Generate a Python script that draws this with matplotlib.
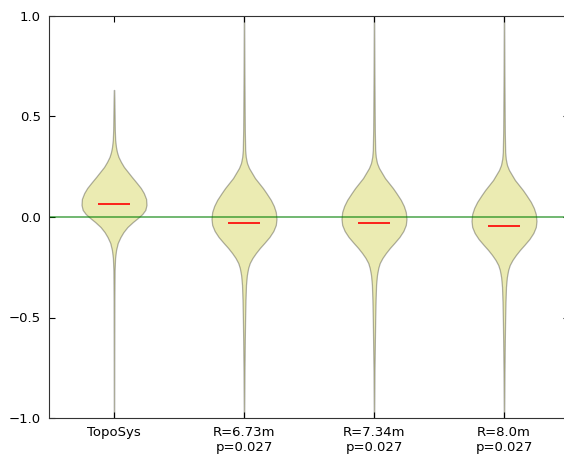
import numpy as np
import matplotlib.pyplot as plt

labels = ['TopoSys', 'R=6.73m\np=0.027', 'R=7.34m\np=0.027', 'R=8.0m\np=0.027']
means = [0.065, -0.03, -0.03, -0.045]

# density profiles (y value, relative half width)
y_topo = [-1.0, -0.662, -0.413, -0.264, -0.204, -0.164, -0.129, -0.100, -0.075,
          -0.050, -0.025, -0.005, 0.015, 0.035, 0.060, 0.090, 0.119, 0.144,
          0.169, 0.199, 0.224, 0.249, 0.274, 0.299, 0.323, 0.348, 0.383, 0.433,
          0.507, 0.582, 0.632]
w_topo = [0.2, 0.3, 0.4, 0.6, 1.1, 2.1, 3.8, 6.5, 9.5, 13.5, 19.0, 24.0, 28.5,
          31.5, 32.7, 32.3, 30.0, 27.0, 23.0, 18.0, 14.0, 10.0, 7.0, 4.5, 3.0,
          2.0, 1.2, 0.8, 0.6, 0.4, 0.2]

y_r673 = [-1.0, -0.763, -0.612, -0.512, -0.413, -0.338, -0.289, -0.254, -0.229,
          -0.204, -0.179, -0.154, -0.129, -0.100, -0.070, -0.040, -0.010, 0.025,
          0.055, 0.085, 0.119, 0.144, 0.169, 0.194, 0.219, 0.244, 0.269, 0.299,
          0.333, 0.433, 0.582, 0.746, 1.0]
w_r673 = [0.2, 0.5, 0.8, 1.1, 1.5, 2.0, 2.9, 4.2, 5.8, 8.5, 12.0, 16.0, 20.5,
          25.5, 29.5, 32.0, 32.7, 32.0, 30.0, 27.0, 22.5, 19.0, 15.0, 11.0, 8.0,
          5.0, 3.0, 1.8, 1.2, 0.8, 0.6, 0.4, 0.2]

y_r734 = [-1.0, -0.763, -0.612, -0.512, -0.413, -0.338, -0.289, -0.254, -0.229,
          -0.204, -0.179, -0.154, -0.129, -0.100, -0.070, -0.040, -0.010, 0.025,
          0.055, 0.085, 0.119, 0.144, 0.169, 0.194, 0.219, 0.244, 0.269, 0.299,
          0.333, 0.433, 0.582, 0.746, 1.0]
w_r734 = [0.2, 0.5, 0.9, 1.2, 1.6, 2.1, 3.0, 4.3, 5.8, 8.5, 12.0, 16.0, 20.5,
          25.5, 29.5, 32.0, 32.7, 32.0, 30.0, 27.0, 22.5, 19.0, 15.0, 11.0, 8.0,
          5.0, 3.0, 1.8, 1.2, 0.8, 0.6, 0.4, 0.2]

y_r80 = [-1.0, -0.773, -0.622, -0.522, -0.423, -0.348, -0.299, -0.264, -0.239,
         -0.214, -0.189, -0.164, -0.139, -0.110, -0.080, -0.050, -0.020, 0.015,
         0.045, 0.075, 0.109, 0.134, 0.159, 0.184, 0.209, 0.234, 0.259, 0.289,
         0.323, 0.423, 0.572, 0.736, 1.0]
w_r80 = [0.2, 0.5, 0.8, 1.1, 1.5, 2.0, 2.9, 4.2, 5.8, 8.5, 12.0, 16.0, 20.5,
         25.5, 29.5, 32.0, 32.7, 32.0, 30.0, 27.0, 22.5, 19.0, 15.0, 11.0, 8.0,
         5.0, 3.0, 1.8, 1.2, 0.8, 0.6, 0.4, 0.2]

profiles = [(y_topo, w_topo), (y_r673, w_r673), (y_r734, w_r734), (y_r80, w_r80)]

stats = []
for (ys, ws), m in zip(profiles, means):
    stats.append({'coords': np.array(ys), 'vals': np.array(ws), 'mean': m,
                  'median': m, 'min': ys[0], 'max': ys[-1]})

plt.rcParams['font.size'] = 9.5
fig = plt.figure(figsize=(5.64, 4.57), dpi=100)
ax = fig.add_axes([49 / 564, 39 / 457, 520 / 564, 402 / 457])

pos = [1, 2, 3, 4]
parts = ax.violin(stats, positions=pos, widths=0.5, showmeans=True,
                  showextrema=False, showmedians=False)
for b in parts['bodies']:
    b.set_facecolor('y')
    b.set_edgecolor('k')
    b.set_linewidth(0.9)
    b.set_alpha(0.3)
parts['cmeans'].set_color('r')
parts['cmeans'].set_linewidth(1.2)

ax.axhline(0, color='g', alpha=0.65, linewidth=1.2)

ax.set_xlim(0.5, 4.5)
ax.set_ylim(-1, 1)
ax.set_yticks([-1.0, -0.5, 0.0, 0.5, 1.0])
ax.set_xticks(pos)
ax.set_xticklabels(labels)
ax.tick_params(direction='in', top=True, right=True, length=4, pad=6)
for s in ax.spines.values():
    s.set_color('#333333')

fig.savefig('out.png', dpi=100)
